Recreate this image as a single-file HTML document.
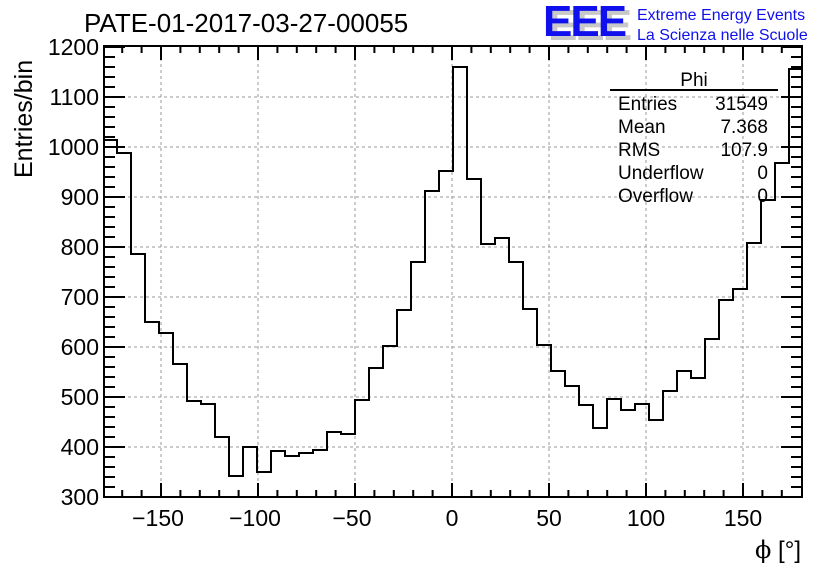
<!DOCTYPE html>
<html><head><meta charset="utf-8"><style>
body{margin:0;background:#fff}
svg text{font-family:"Liberation Sans",Arial,sans-serif}
</style></head><body>
<svg width="836" height="572" xmlns="http://www.w3.org/2000/svg">
<rect width="836" height="572" fill="#fff"/>
<g stroke="#999" stroke-dasharray="3,3" stroke-width="1">
<line x1="161" y1="46" x2="161" y2="497"/><line x1="258" y1="46" x2="258" y2="497"/>
<line x1="355" y1="46" x2="355" y2="497"/><line x1="452" y1="46" x2="452" y2="497"/>
<line x1="549" y1="46" x2="549" y2="497"/><line x1="646" y1="46" x2="646" y2="497"/>
<line x1="743" y1="46" x2="743" y2="497"/>
<line x1="104" y1="97" x2="802" y2="97"/><line x1="104" y1="147" x2="802" y2="147"/>
<line x1="104" y1="197" x2="802" y2="197"/><line x1="104" y1="247" x2="802" y2="247"/>
<line x1="104" y1="297" x2="802" y2="297"/><line x1="104" y1="347" x2="802" y2="347"/>
<line x1="104" y1="397" x2="802" y2="397"/><line x1="104" y1="447" x2="802" y2="447"/>
</g>
<path fill="none" stroke="#000" stroke-width="2" d="M104,497 V140 H117 V153 H131 V254 H145 V322 H159 V333 H173 V364 H187 V401 H201 V404 H215 V437 H229 V476 H243 V447 H257 V472 H271 V451 H285 V456 H299 V453 H313 V450 H327 V432 H341 V434 H355 V400 H369 V368 H383 V346 H397 V310 H411 V262 H425 V191 H439 V171 H453 V67 H467 V179 H481 V244 H495 V238 H509 V262 H523 V309 H537 V345 H551 V371 H565 V386 H579 V405 H593 V428 H607 V399 H621 V410 H635 V404 H649 V420 H663 V391 H677 V371 H691 V378 H705 V339 H719 V300 H733 V289 H747 V243 H761 V200 H775 V163 H789 V69 H802"/>
<rect x="104" y="46" width="698" height="451" fill="none" stroke="#000" stroke-width="2"/>
<path fill="none" stroke="#000" stroke-width="2" d="
M161,497v-14M258,497v-14M355,497v-14M452,497v-14M549,497v-14M646,497v-14M743,497v-14
M161,46v14M258,46v14M355,46v14M452,46v14M549,46v14M646,46v14M743,46v14
M122.2,497v-7M141.6,497v-7M180.4,497v-7M199.8,497v-7M219.2,497v-7M238.6,497v-7M277.4,497v-7M296.8,497v-7M316.2,497v-7M335.6,497v-7M374.4,497v-7M393.8,497v-7M413.2,497v-7M432.6,497v-7M471.4,497v-7M490.8,497v-7M510.2,497v-7M529.6,497v-7M568.4,497v-7M587.8,497v-7M607.2,497v-7M626.6,497v-7M665.4,497v-7M684.8,497v-7M704.2,497v-7M723.6,497v-7M762.4,497v-7M781.8,497v-7
M122.2,46v7M141.6,46v7M180.4,46v7M199.8,46v7M219.2,46v7M238.6,46v7M277.4,46v7M296.8,46v7M316.2,46v7M335.6,46v7M374.4,46v7M393.8,46v7M413.2,46v7M432.6,46v7M471.4,46v7M490.8,46v7M510.2,46v7M529.6,46v7M568.4,46v7M587.8,46v7M607.2,46v7M626.6,46v7M665.4,46v7M684.8,46v7M704.2,46v7M723.6,46v7M762.4,46v7M781.8,46v7
M104,447h21M104,397h21M104,347h21M104,297h21M104,247h21M104,197h21M104,147h21M104,97h21M104,47h21
M802,447h-21M802,397h-21M802,347h-21M802,297h-21M802,247h-21M802,197h-21M802,147h-21M802,97h-21M802,47h-21
M104,487h11M104,477h11M104,467h11M104,457h11M104,437h11M104,427h11M104,417h11M104,407h11M104,387h11M104,377h11M104,367h11M104,357h11M104,337h11M104,327h11M104,317h11M104,307h11M104,287h11M104,277h11M104,267h11M104,257h11M104,237h11M104,227h11M104,217h11M104,207h11M104,187h11M104,177h11M104,167h11M104,157h11M104,137h11M104,127h11M104,117h11M104,107h11M104,87h11M104,77h11M104,67h11M104,57h11
M802,487h-11M802,477h-11M802,467h-11M802,457h-11M802,437h-11M802,427h-11M802,417h-11M802,407h-11M802,387h-11M802,377h-11M802,367h-11M802,357h-11M802,337h-11M802,327h-11M802,317h-11M802,307h-11M802,287h-11M802,277h-11M802,267h-11M802,257h-11M802,237h-11M802,227h-11M802,217h-11M802,207h-11M802,187h-11M802,177h-11M802,167h-11M802,157h-11M802,137h-11M802,127h-11M802,117h-11M802,107h-11M802,87h-11M802,77h-11M802,67h-11M802,57h-11"/>
<g font-size="23" text-anchor="end">
<text x="99" y="505">300</text><text x="99" y="455">400</text><text x="99" y="405">500</text>
<text x="99" y="355">600</text><text x="99" y="305">700</text><text x="99" y="255">800</text>
<text x="99" y="205">900</text><text x="99" y="155">1000</text><text x="99" y="105">1100</text>
<text x="99" y="55">1200</text>
</g>
<g font-size="23" text-anchor="middle">
<text x="158" y="526">−150</text><text x="255" y="526">−100</text><text x="352" y="526">−50</text>
<text x="452" y="526">0</text><text x="549" y="526">50</text><text x="646" y="526">100</text><text x="743" y="526">150</text>
</g>
<text x="801" y="558" font-size="24" text-anchor="end"><tspan font-family="DejaVu Serif,serif">ϕ</tspan> [°]</text>
<text transform="translate(32,178) rotate(-90)" font-size="25">Entries/bin</text>
<text x="84" y="32" font-size="26">PATE-01-2017-03-27-00055</text>
<g font-size="44" font-weight="bold" letter-spacing="-2">
<text x="548" y="40" fill="#c8c8c8">EEE</text>
<text x="543" y="36" fill="#1010ee">EEE</text>
</g>
<text x="637" y="20" font-size="16" fill="#1010ee">Extreme Energy Events</text>
<text x="637" y="40" font-size="16" fill="#1010ee">La Scienza nelle Scuole</text>
<line x1="610" y1="90" x2="778" y2="90" stroke="#000" stroke-width="2"/>
<g font-size="19">
<text x="694" y="86" text-anchor="middle">Phi</text>
<text x="618" y="110">Entries</text><text x="768" y="110" text-anchor="end">31549</text>
<text x="618" y="133">Mean</text><text x="768" y="133" text-anchor="end">7.368</text>
<text x="618" y="156">RMS</text><text x="768" y="156" text-anchor="end">107.9</text>
<text x="618" y="179">Underflow</text><text x="768" y="179" text-anchor="end">0</text>
<text x="618" y="202">Overflow</text><text x="768" y="202" text-anchor="end">0</text>
</g>
</svg>
</body></html>
